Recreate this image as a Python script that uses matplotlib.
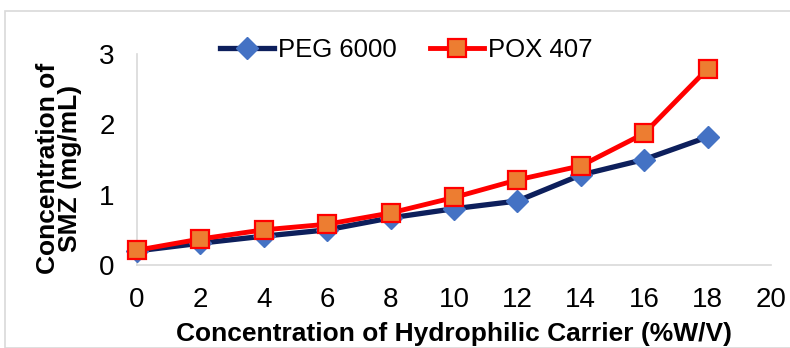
import matplotlib
matplotlib.use("Agg")
import matplotlib.pyplot as plt
from matplotlib.patches import Rectangle

plt.rcParams['font.family'] = ['Liberation Sans', 'DejaVu Sans']

x = [0, 2, 4, 6, 8, 10, 12, 14, 16, 18]
peg6000 = [0.20, 0.31, 0.41, 0.50, 0.67, 0.80, 0.91, 1.28, 1.50, 1.82]
pox407 = [0.21, 0.37, 0.50, 0.58, 0.74, 0.96, 1.21, 1.41, 1.87, 2.79]
xticks = [0, 2, 4, 6, 8, 10, 12, 14, 16, 18, 20]
yticks = [0, 1, 2, 3]

W, H = 790, 348
fig = plt.figure(figsize=(W / 100, H / 100), dpi=100)
ax = fig.add_axes([137 / W, 1 - 265 / H, (771 - 137) / W, (265 - 54) / H])

fig.patches.append(Rectangle((5 / W, 0), 1.0, 1 - 11 / H, transform=fig.transFigure,
                             fill=False, edgecolor='#D9D9D9', linewidth=1.2))

ax.plot(x, peg6000, color='#0D1F5C', linewidth=3.8, marker='D', markersize=11,
        markerfacecolor='#4472C4', markeredgecolor='#4472C4', label='PEG 6000',
        clip_on=False, zorder=3)
ax.plot(x, pox407, color='#FF0000', linewidth=3.5, marker='s', markersize=13,
        markerfacecolor='#ED7D31', markeredgecolor='#FF0000', markeredgewidth=1.6,
        label='POX 407', clip_on=False, zorder=4)

ax.set_xlim(0, 20)
ax.set_ylim(0, 3)
ax.set_xticks(xticks)
ax.set_yticks(yticks)
ax.tick_params(axis='both', length=0, labelsize=20, colors='#000000')
ax.tick_params(axis='x', pad=16)
ax.tick_params(axis='y', pad=16)
for s in ['top', 'right']:
    ax.spines[s].set_visible(False)
for s in ['left', 'bottom']:
    ax.spines[s].set_color('#D9D9D9')
    ax.spines[s].set_linewidth(1.2)

ax.set_xlabel('Concentration of Hydrophilic Carrier (%W/V)', fontsize=19,
              fontweight='bold', labelpad=6)
ax.set_ylabel('Concentration of\nSMZ (mg/mL)', fontsize=19, fontweight='bold',
              labelpad=8, linespacing=0.9)
ax.yaxis.set_label_coords(-0.086, 0.46)

leg = ax.legend(loc='center', bbox_to_anchor=(0.425, 1.02), ncol=2, frameon=False,
                fontsize=18.5, handlelength=2.1, columnspacing=1.3, handletextpad=0.15,
                borderpad=0)

fig.savefig('out.png', dpi=100, facecolor='white')
